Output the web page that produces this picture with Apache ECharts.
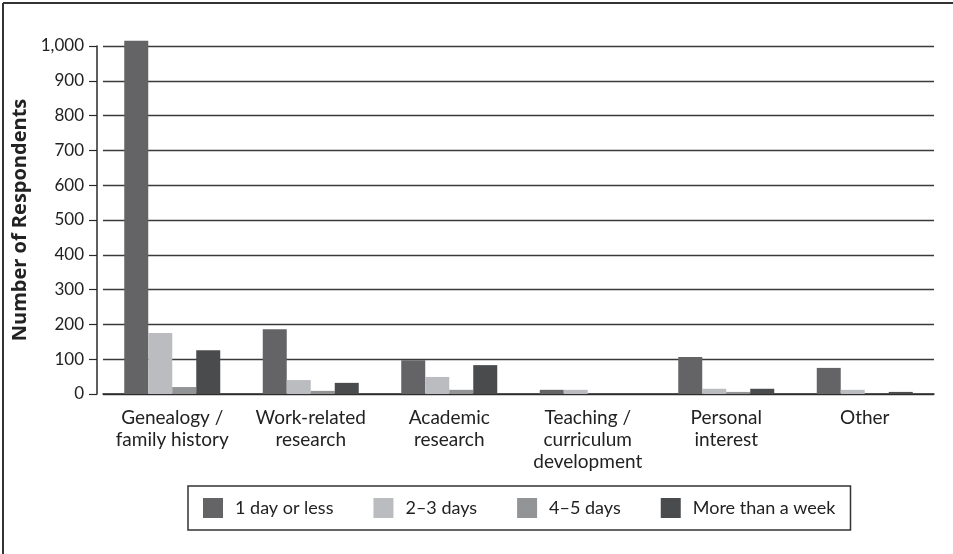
<!DOCTYPE html>
<html>
<head>
<meta charset="utf-8">
<script src="https://cdn.jsdelivr.net/npm/echarts@6/dist/echarts.min.js"></script>
<style>
  html, body { margin: 0; padding: 0; background: #fff; }
  #chart { width: 953px; height: 554px; }
</style>
</head>
<body>
<div id="chart"></div>
<script>
// categories and values
var categories = ['Genealogy /\nfamily history', 'Work-related\nresearch', 'Academic\nresearch',
  'Teaching /\ncurriculum\ndevelopment', 'Personal\ninterest', 'Other']
var seriesNames = ['1 day or less', '2\u20133 days', '4\u20135 days', 'More than a week']
var oneDayOrLess = [1015, 186, 97, 12, 106, 75]
var twoToThreeDays = [175, 40, 49, 12, 15, 12]
var fourToFiveDays = [20, 9, 12, 0, 6, 0]
var moreThanAWeek = [126, 32, 83, 0, 15, 6]
var colors = ['#646466', '#bbbcbf', '#939496', '#4a4b4d']

var font = 'Lato, "Open Sans", sans-serif'
var chart = echarts.init(document.getElementById('chart'))

function makeSeries(name, data, idx) {
  return {
    name: name,
    type: 'bar',
    data: data,
    barWidth: 24,
    barGap: '0%',
    clip: false,
    itemStyle: { color: colors[idx] },
    animation: false
  }
}

chart.setOption({
  animation: false,
  textStyle: { fontFamily: font },
  graphic: [
    { // frame left edge
      type: 'line', shape: { x1: 3, y1: 3, x2: 3, y2: 554 },
      style: { stroke: '#333', lineWidth: 2 }
    },
    { // frame top edge
      type: 'line', shape: { x1: 3, y1: 3, x2: 953, y2: 3 },
      style: { stroke: '#333', lineWidth: 2 }
    }
  ],
  grid: {
    left: 103,
    right: 19,
    top: 46,
    bottom: 160
  },
  legend: {
    data: seriesNames,
    left: 188,
    top: 486,
    orient: 'horizontal',
    icon: 'rect',
    itemWidth: 20,
    itemHeight: 20,
    itemGap: 40,
    padding: [12, 15, 12, 15],
    borderColor: '#333',
    borderWidth: 1.5,
    textStyle: {
      fontFamily: font,
      fontSize: 18,
      color: '#222',
      padding: [0, 0, 0, 7]
    }
  },
  xAxis: {
    type: 'category',
    data: categories,
    axisTick: { show: false },
    axisLine: { lineStyle: { color: '#2a2a2a', width: 1.5 } },
    axisLabel: {
      interval: 0,
      margin: 13,
      fontFamily: font,
      fontSize: 19,
      lineHeight: 22,
      color: '#222'
    }
  },
  yAxis: {
    type: 'value',
    min: 0,
    max: 1000,
    interval: 100,
    offset: 6,
    name: 'Number of Respondents',
    nameLocation: 'middle',
    nameGap: 61,
    nameTextStyle: {
      fontFamily: '"Open Sans", "DejaVu Sans", sans-serif',
      fontSize: 20,
      fontWeight: 'bold',
      color: '#222'
    },
    axisLine: { show: true, lineStyle: { color: '#2a2a2a', width: 1.5 } },
    axisTick: { show: true, length: 8, lineStyle: { color: '#2a2a2a', width: 1.2 } },
    axisLabel: {
      margin: 13,
      fontFamily: font,
      fontSize: 17,
      color: '#222',
      formatter: function (v) { return v.toLocaleString('en-US') }
    },
    splitLine: { lineStyle: { color: '#3a3a3a', width: 1.3 } }
  },
  series: [
    makeSeries(seriesNames[0], oneDayOrLess, 0),
    makeSeries(seriesNames[1], twoToThreeDays, 1),
    makeSeries(seriesNames[2], fourToFiveDays, 2),
    makeSeries(seriesNames[3], moreThanAWeek, 3)
  ]
})
</script>
</body>
</html>
